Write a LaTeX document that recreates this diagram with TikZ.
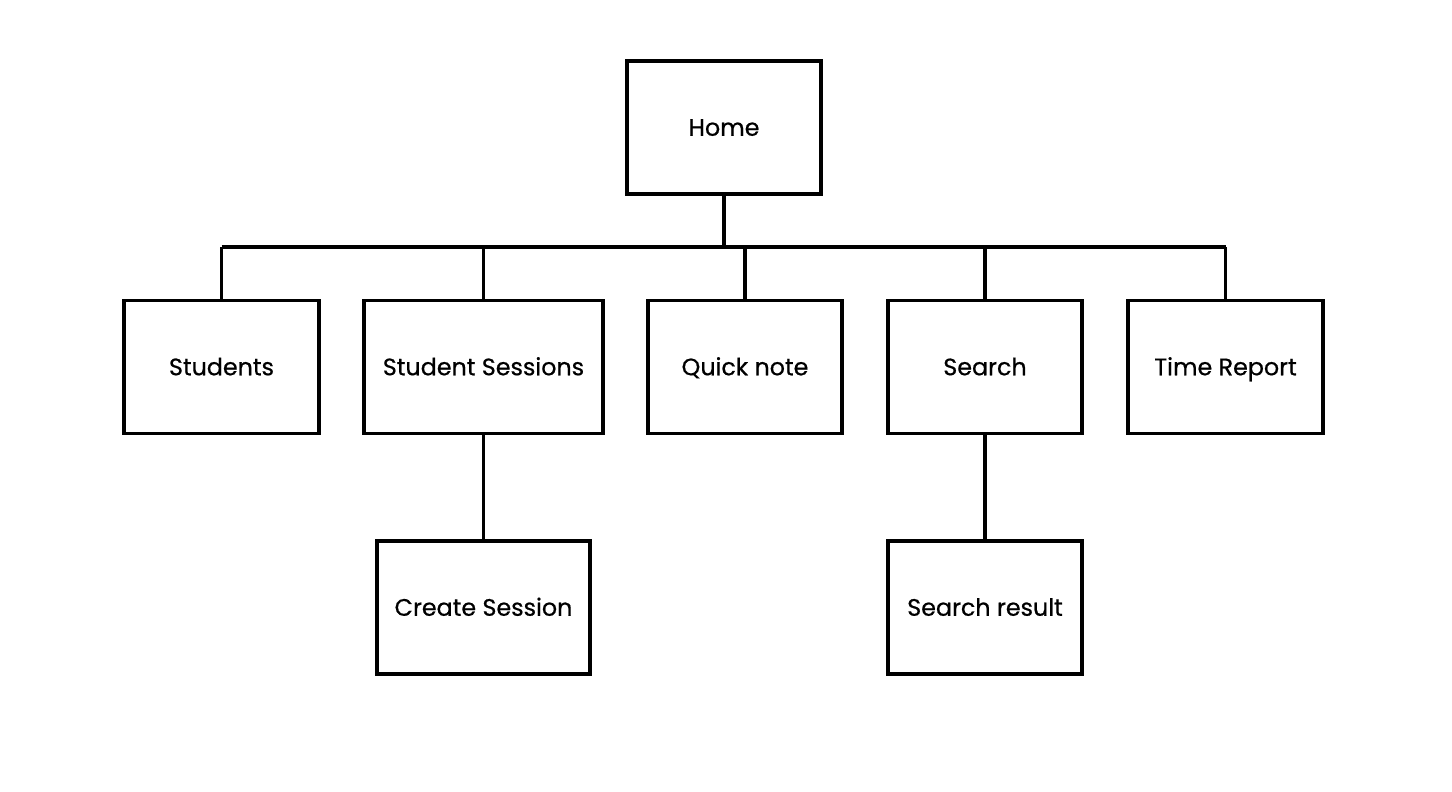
\documentclass[tikz,border=0pt]{standalone}
\usepackage{fontspec}
\setmainfont{Poppins}[FakeBold=0.6]
\begin{document}
\begin{tikzpicture}[x=1pt,y=-1pt,
  box/.style={draw=black, line width=3.8pt, fill=white, rectangle, minimum height=133pt, inner sep=0pt, text height=16.5pt, text depth=0pt, font=\fontsize{23.8}{27}\selectfont},
  link/.style={draw=black, line width=3.2pt}]
\useasboundingbox (0,0) rectangle (1452,792);
\node[box, minimum width=194pt] (home) at (724,127.5) {Home};
\node[box, minimum width=195pt] (students) at (221.5,367) {Students};
\node[box, minimum width=239pt] (sessions) at (483.5,367) {Student Sessions};
\node[box, minimum width=194pt] (quick) at (745,367) {Quick note};
\node[box, minimum width=194pt] (search) at (985,367) {Search};
\node[box, minimum width=195pt] (time) at (1225.5,367) {Time Report};
\node[box, minimum width=213pt] (create) at (483.5,607.5) {Create Session};
\node[box, minimum width=194pt] (result) at (985,607.5) {Search result};
\coordinate (busL) at (221.5,247);
\coordinate (busR) at (1225.5,247);
\coordinate (busH) at (724,247);
\draw[link] (busL) -- (busR);
\draw[link] (home.south) -- (busH);
\draw[link] (busL) -- (students.north);
\draw[link] (sessions.north |- busL) -- (sessions.north);
\draw[link] (quick.north |- busL) -- (quick.north);
\draw[link] (search.north |- busL) -- (search.north);
\draw[link] (busR) -- (time.north);
\draw[link] (sessions.south) -- (create.north);
\draw[link] (search.south) -- (result.north);
\end{tikzpicture}
\end{document}
